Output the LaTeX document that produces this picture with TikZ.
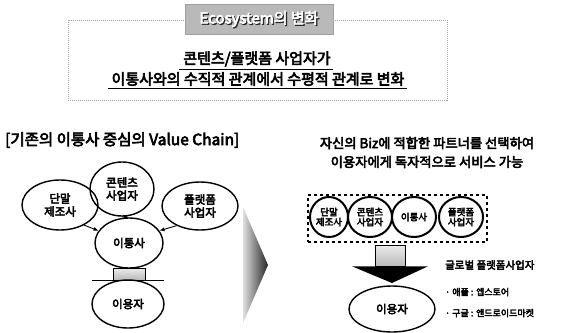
\documentclass[tikz,border=0pt]{standalone}
\usepackage{fontspec}
\setmainfont{Noto Sans CJK KR}[FakeBold=4]
\usetikzlibrary{shapes.geometric,arrows.meta}
\begin{document}
\begin{tikzpicture}[x=1pt,y=-1pt,
  every node/.style={inner sep=0pt},
  bigell/.style={ellipse,draw,line width=1.4pt,align=center,font=\fontsize{11.5}{13}\selectfont},
  smallcirc/.style={ellipse,draw,line width=2pt,align=center,minimum height=40pt,font=\fontsize{9.5}{10}\selectfont},
  head/.style={font=\fontsize{13.3}{15}\selectfont},
  arr/.style={line width=0.9pt,-{Latex[length=5pt,width=4pt]}},
  hatch/.style={draw,line width=0.6pt,top color=gray!15,bottom color=gray!55}
]
\useasboundingbox (0,0) rectangle (567,332);
% top frame
\node[draw=gray!70,densely dotted,line width=1pt,minimum width=379pt,minimum height=80pt] (frame) at (257.5,60) {};
\node[fill=gray!55,draw=gray!75,line width=1pt,minimum width=148pt,minimum height=30pt] (tab) at (259,19) {};
\node[font=\fontsize{15}{17}\selectfont,text=black!85] (tabshadow) at (260.2,20.2) {Ecosystem의 변화};
\node[font=\fontsize{15}{17}\selectfont,text=white] (tabtext) at (259,19) {Ecosystem의 변화};
\node[font=\fontsize{15}{16}\selectfont] (t1) at (257,59) {콘텐츠/플랫폼 사업자가};
\node[font=\fontsize{15}{16}\selectfont] (t2) at (258,79) {이통사와의 수직적 관계에서 수평적 관계로 변화};
\draw[line width=1.4pt] ([yshift=-2.5pt,xshift=-4pt]t1.south west) -- ([yshift=-2.5pt,xshift=2pt]t1.south east);
\draw[line width=1.4pt] ([yshift=-2.5pt,xshift=-3pt]t2.south west) -- ([yshift=-2.5pt,xshift=2pt]t2.south east);
% left heading
\node[font=\fontsize{15.5}{16}\selectfont,anchor=west] (lh) at (5,140) {[기존의 이통사 중심의 Value Chain]};
% left diagram
\node[bigell,minimum width=76pt,minimum height=50pt] (d) at (60,205) {단말\\제조사};
\node[bigell,minimum width=64pt,minimum height=54pt] (c) at (122,189) {콘텐츠\\사업자};
\node[bigell,minimum width=76pt,minimum height=48pt] (p) at (200,206) {플랫폼\\사업자};
\node[bigell,minimum width=68pt,minimum height=50pt] (m) at (129,243) {이통사};
\node[hatch,minimum width=32pt,minimum height=12pt] (lb) at (129,274) {};
\node[bigell,minimum width=72pt,minimum height=48pt] (u) at (128,304) {이용자};
\coordinate (la) at (92,280);
\coordinate (lc) at (164,280);
\draw[line width=1pt] (la) -- (lc);
\draw[arr] (d.-40) -- (m.158);
\draw[arr] (p.-140) -- (m.22);
\draw[arr] (c.south) -- (m.north);
% big arrow
\shade[left color=gray!25,right color=black!85] (243,207) -- (268,265) -- (243,323) -- cycle;
% right heading
\node[head] (r1) at (427,143) {자신의 Biz에 적합한 파트너를 선택하여};
\node[head] (r2) at (427,162) {이용자에게 독자적으로 서비스 가능};
% right diagram
\node[draw,dashed,line width=1.1pt,minimum width=179pt,minimum height=47pt] (box) at (397.5,218.5) {};
\node[smallcirc,minimum width=38pt] (s1) at (329,217) {단말\\제조사};
\node[smallcirc,minimum width=44pt] (s2) at (370,217) {콘텐츠\\사업자};
\node[smallcirc,minimum width=44pt] (s3) at (414,217) {이통사};
\node[smallcirc,minimum width=44pt] (s4) at (461,217) {플랫폼\\사업자};
\node[hatch,minimum width=30pt,minimum height=21pt] (rb) at (390,255.5) {};
\fill[black] (rb.south) ++(-38,0) -- ++(76,0) -- (392,283) -- cycle;
\node[bigell,minimum width=86pt,minimum height=46pt] (ru) at (392,309) {이용자};
\node[anchor=west,font=\fontsize{10.5}{12}\selectfont] (g) at (445,265) {글로벌 플랫폼사업자};
\node[anchor=west,font=\fontsize{9}{11}\selectfont] (g1) at (445,292) {· 애플 : 앱스토어};
\node[anchor=west,font=\fontsize{9}{11}\selectfont] (g2) at (445,313) {· 구글 : 앤드로이드마켓};
\end{tikzpicture}
\end{document}
